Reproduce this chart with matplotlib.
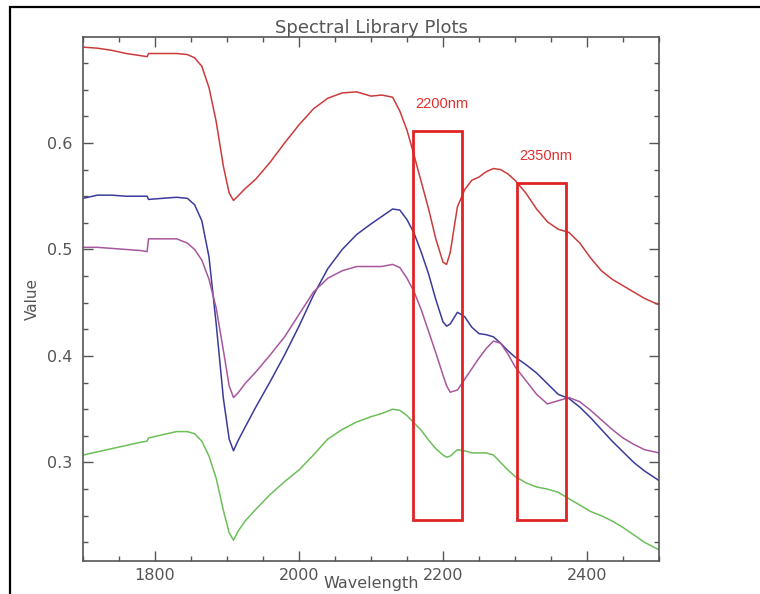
import matplotlib
matplotlib.use("Agg")
import matplotlib.pyplot as plt
from matplotlib.patches import Rectangle
from matplotlib.ticker import MultipleLocator

# Wavelength grid (nm) shared by all spectra
wavelength = [1700, 1720, 1740, 1760, 1780, 1789, 1791, 1810, 1830, 1845,
              1855, 1865, 1875, 1885, 1895, 1903, 1909, 1915, 1925, 1940,
              1960, 1980, 2000, 2020, 2040, 2060, 2080, 2100, 2115, 2130,
              2140, 2150, 2160, 2170, 2180, 2190, 2200, 2205, 2210, 2220,
              2230, 2240, 2250, 2260, 2270, 2280, 2290, 2300, 2315, 2330,
              2345, 2360, 2375, 2390, 2405, 2420, 2435, 2450, 2465, 2480,
              2500]

spec_red = [0.690, 0.689, 0.687, 0.684, 0.682, 0.681, 0.684, 0.684, 0.684, 0.683,
            0.680, 0.672, 0.652, 0.620, 0.578, 0.553, 0.546, 0.550, 0.557, 0.566,
            0.582, 0.600, 0.617, 0.632, 0.642, 0.647, 0.648, 0.644, 0.645, 0.643,
            0.630, 0.612, 0.588, 0.563, 0.538, 0.510, 0.488, 0.486, 0.497, 0.540,
            0.556, 0.565, 0.568, 0.573, 0.576, 0.575, 0.571, 0.565, 0.553, 0.538,
            0.526, 0.519, 0.516, 0.506, 0.492, 0.480, 0.472, 0.466, 0.460, 0.454,
            0.448]

spec_blue = [0.548, 0.551, 0.551, 0.550, 0.550, 0.550, 0.547, 0.548, 0.549, 0.548,
             0.542, 0.527, 0.493, 0.430, 0.360, 0.322, 0.311, 0.320, 0.333, 0.352,
             0.376, 0.401, 0.428, 0.457, 0.482, 0.500, 0.514, 0.524, 0.531, 0.538,
             0.537, 0.528, 0.515, 0.497, 0.477, 0.453, 0.432, 0.428, 0.430, 0.441,
             0.437, 0.427, 0.421, 0.420, 0.418, 0.412, 0.405, 0.399, 0.392, 0.384,
             0.374, 0.364, 0.360, 0.352, 0.342, 0.331, 0.320, 0.310, 0.300, 0.292,
             0.283]

spec_purple = [0.502, 0.502, 0.501, 0.500, 0.499, 0.498, 0.510, 0.510, 0.510, 0.506,
               0.500, 0.490, 0.472, 0.445, 0.405, 0.372, 0.361, 0.365, 0.374, 0.385,
               0.401, 0.418, 0.439, 0.460, 0.473, 0.480, 0.484, 0.484, 0.484, 0.486,
               0.483, 0.473, 0.460, 0.443, 0.423, 0.403, 0.382, 0.372, 0.366, 0.368,
               0.378, 0.388, 0.398, 0.407, 0.414, 0.412, 0.402, 0.390, 0.377, 0.364,
               0.355, 0.358, 0.361, 0.357, 0.349, 0.340, 0.331, 0.323, 0.317, 0.312,
               0.309]

spec_green = [0.307, 0.310, 0.313, 0.316, 0.319, 0.320, 0.323, 0.326, 0.329, 0.329,
              0.327, 0.320, 0.306, 0.285, 0.255, 0.234, 0.227, 0.235, 0.245, 0.256,
              0.270, 0.282, 0.293, 0.307, 0.322, 0.331, 0.338, 0.343, 0.346, 0.350,
              0.349, 0.344, 0.337, 0.330, 0.321, 0.313, 0.307, 0.305, 0.306, 0.312,
              0.311, 0.309, 0.309, 0.309, 0.307, 0.300, 0.293, 0.287, 0.281, 0.277,
              0.275, 0.272, 0.266, 0.260, 0.254, 0.250, 0.245, 0.239, 0.232, 0.225,
              0.218]

# Absorption windows highlighted on the plot: (label, start, end, top value)
band_labels = ['2200nm', '2350nm']
band_start = [2158, 2303]
band_end = [2226, 2371]
band_top = [0.611, 0.562]
band_bottom = 0.246

AXIS_GRAY = '#555555'

fig = plt.figure(figsize=(7.6, 5.94), dpi=100)
ax = fig.add_axes([83 / 760, 1 - 561 / 594, 576 / 760, 524 / 594])

ax.plot(wavelength, spec_red, color='#cc3b3b', lw=1.1)
ax.plot(wavelength, spec_blue, color='#3b3b9c', lw=1.1)
ax.plot(wavelength, spec_purple, color='#a8579e', lw=1.1)
ax.plot(wavelength, spec_green, color='#6cbf5a', lw=1.1)

for lab, x0, x1, top in zip(band_labels, band_start, band_end, band_top):
    ax.add_patch(Rectangle((x0, band_bottom), x1 - x0, top - band_bottom,
                           fill=False, edgecolor='#e02424', lw=2.0, zorder=5))
    ax.text(x0 + 3, top + 0.026, lab, color='#e03030', fontsize=10.5,
            family='Liberation Sans', va='center', ha='left')

ax.set_xlim(1700, 2500)
ax.set_ylim(0.2075, 0.6995)
ax.xaxis.set_major_locator(MultipleLocator(200))
ax.xaxis.set_minor_locator(MultipleLocator(50))
ax.yaxis.set_major_locator(MultipleLocator(0.1))
ax.yaxis.set_minor_locator(MultipleLocator(0.025))
ax.yaxis.set_major_formatter(plt.FuncFormatter(lambda v, p: f'{v:.1f}'))

ax.tick_params(which='both', direction='in', top=True, right=True,
               color=AXIS_GRAY, labelcolor=AXIS_GRAY, labelsize=11.5)
ax.tick_params(which='major', length=7, width=1.0)
ax.tick_params(which='minor', length=3.5, width=1.0)
ax.tick_params(axis='y', pad=8)
ax.tick_params(axis='x', pad=5)
for sp in ax.spines.values():
    sp.set_color(AXIS_GRAY)
    sp.set_linewidth(1.2)

ax.set_title('Spectral Library Plots', color=AXIS_GRAY, fontsize=13, pad=3)
ax.set_xlabel('Wavelength', color=AXIS_GRAY, fontsize=11.5, labelpad=-5)
ax.set_ylabel('Value', color=AXIS_GRAY, fontsize=11, labelpad=5)

# Outer frame around the figure
fig.add_artist(Rectangle((10 / 760, -0.2), 1.5, 1.2 - 7 / 594,
                         transform=fig.transFigure, fill=False,
                         edgecolor='black', lw=1.6, clip_on=False))

fig.savefig('out.png', dpi=100, facecolor='white')
